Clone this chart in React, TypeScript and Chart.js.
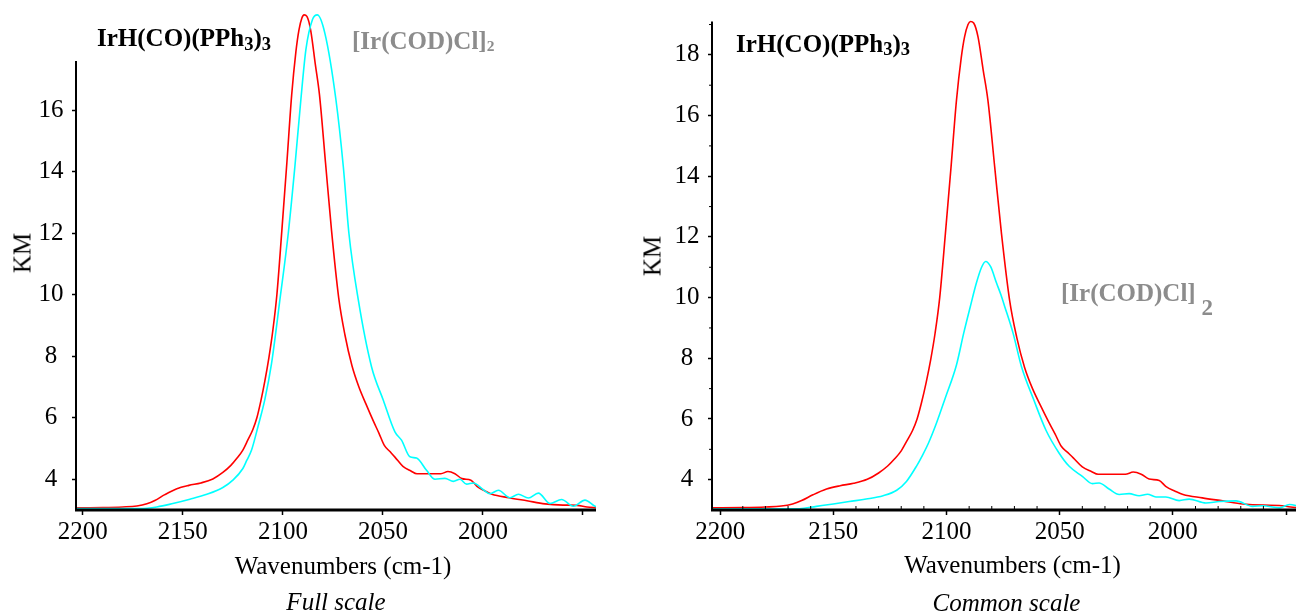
import React, { useEffect, useRef } from 'react';
import { Chart, registerables } from 'chart.js';

Chart.register(...registerables);

// ---------- data ----------
const xTickValues = [2200, 2150, 2100, 2050, 2000, 1950];
const xTickLabels = ['2200', '2150', '2100', '2050', '2000', ''];
const yTicksFull = [4, 6, 8, 10, 12, 14, 16];
const yTicksCommon = [4, 6, 8, 10, 12, 14, 16, 18];

// IrH(CO)(PPh3)3 (red) – same spectrum in both panels
const irhWavenumbers = [
  2204, 2190, 2180, 2173, 2168, 2164, 2159, 2153, 2147, 2141, 2135, 2130, 2126, 2123, 2120, 2117.5,
  2115, 2113, 2111, 2109, 2107, 2105, 2103, 2100.5, 2098, 2095.6, 2093.5, 2092, 2090.5, 2089.4,
  2088, 2086.1, 2083.8, 2081.7, 2078.7, 2075.7, 2072.1, 2069, 2065.5, 2062, 2058.5, 2054.7, 2052,
  2049.3, 2046.5, 2044, 2040, 2036, 2033, 2021, 2017.5, 2014, 2010.5, 2006, 2003, 1999, 1995.5,
  1987, 1978, 1969, 1960, 1953, 1948, 1943,
];
const irhKM = [
  3.07, 3.08, 3.1, 3.13, 3.2, 3.31, 3.5, 3.69, 3.8, 3.88, 4.01, 4.22, 4.45, 4.68, 4.95, 5.28,
  5.62, 6.0, 6.55, 7.2, 7.95, 8.85, 10.0, 12.1, 14.3, 16.5, 17.9, 18.6, 19.0, 19.1,
  19.05, 18.6, 17.5, 16.5, 14.3, 12.1, 9.9, 8.7, 7.7, 7.0, 6.45, 5.88, 5.5,
  5.1, 4.9, 4.72, 4.42, 4.27, 4.18, 4.18, 4.25, 4.18, 4.02, 3.97, 3.77, 3.62, 3.51,
  3.4, 3.3, 3.2, 3.16, 3.15, 3.1, 3.07,
];

// [Ir(COD)Cl]2 (cyan) – common scale
const codCommonWavenumbers = [
  2204, 2165, 2157.5, 2150, 2143, 2135.5, 2128, 2122, 2117.7, 2113.3, 2110.5, 2108, 2104.5, 2100.5,
  2095.6, 2092.4, 2089.5, 2086.8, 2084.5, 2082.7, 2080.5, 2077.9, 2076, 2074.3, 2070.6, 2066.9,
  2061.5, 2056, 2050.3, 2045.8, 2040, 2035.5, 2032.6, 2028.2, 2023.7, 2019.3, 2014.9, 2011.2,
  2007.5, 2003.1, 1997.2, 1992.8, 1985.4, 1979.5, 1972.1, 1964.8, 1960.3, 1953, 1948.5, 1944,
];
const codCommonKM = [
  3.03, 3.04, 3.12, 3.2, 3.28, 3.36, 3.47, 3.65, 3.94, 4.44, 4.82, 5.2, 5.85, 6.7,
  7.78, 8.83, 9.7, 10.48, 11.0, 11.19, 11.02, 10.48, 10.1, 9.71, 8.83, 7.73,
  6.64, 5.62, 4.88, 4.44, 4.11, 3.87, 3.89, 3.69, 3.51, 3.54, 3.47, 3.52,
  3.43, 3.43, 3.31, 3.36, 3.23, 3.28, 3.3, 3.12, 3.14, 3.07, 3.18, 3.12,
];

// [Ir(COD)Cl]2 (cyan) – full scale
const codFullWavenumbers = [
  2204, 2171.5, 2163, 2155, 2146.5, 2138, 2130, 2125, 2120, 2118, 2115.7, 2112.3, 2109, 2105.7,
  2101.5, 2097.3, 2094, 2091, 2088.5, 2085.2, 2082.8, 2079, 2073.5, 2069.8, 2067, 2062.3, 2055.7,
  2049.8, 2044, 2040.7, 2036.5, 2033.2, 2028.2, 2024, 2019, 2014.8, 2011.5, 2008.2, 2004.8,
  1999.8, 1996.5, 1992.3, 1986.5, 1982.3, 1977.3, 1972.3, 1966.5, 1960.7, 1954.8, 1949, 1944, 1943,
];
const codFullKM = [
  3.05, 3.05, 3.1, 3.21, 3.35, 3.51, 3.73, 3.97, 4.35, 4.62, 4.94, 5.75, 6.6, 7.75,
  9.83, 12.0, 14.17, 16.35, 17.97, 18.95, 19.1, 18.5, 16.35, 14.17, 12.0, 9.83, 7.66,
  6.57, 5.54, 5.27, 4.73, 4.69, 4.29, 4.0, 4.03, 3.93, 4.0, 3.84, 3.88,
  3.66, 3.53, 3.64, 3.4, 3.51, 3.39, 3.55, 3.21, 3.34, 3.12, 3.32, 3.12, 3.1,
];

// ---------- styling ----------
const SERIF = '"Liberation Serif", "Times New Roman", Times, serif';
const RED = '#ff0000';
const CYAN = '#00ffff';
const GRAY = '#8c8c8c';

const toPoints = (xs: number[], ys: number[]) => xs.map((x, i) => ({ x, y: ys[i] }));

const axesPlugin = {
  id: 'axesLines',
  afterDatasetsDraw(chart: any, _args: any, opts: any) {
    const { ctx, chartArea: ca, scales } = chart;
    const x = scales.x;
    const y = scales.y;
    ctx.save();
    ctx.strokeStyle = '#000';
    if (opts.minor) {
      ctx.lineWidth = 1;
      for (let v = 2190; v >= x.min; v -= 10) {
        if (v % 50 === 0) continue;
        const px = x.getPixelForValue(v);
        ctx.beginPath();
        ctx.moveTo(px, ca.bottom);
        ctx.lineTo(px, ca.bottom - 4);
        ctx.stroke();
      }
      for (let v = 4; v <= y.max; v += 1) {
        if (v % 2 === 0) continue;
        const py = y.getPixelForValue(v);
        ctx.beginPath();
        ctx.moveTo(ca.left, py);
        ctx.lineTo(ca.left - 3, py);
        ctx.stroke();
      }
    }
    ctx.lineWidth = 3;
    ctx.beginPath();
    ctx.moveTo(ca.left - 1, ca.bottom);
    ctx.lineTo(ca.right, ca.bottom);
    ctx.stroke();
    ctx.lineWidth = 2;
    ctx.beginPath();
    ctx.moveTo(ca.left, y.getPixelForValue(opts.axisTop));
    ctx.lineTo(ca.left, ca.bottom);
    ctx.stroke();
    ctx.restore();
  },
};

type PanelProps = {
  left: number;
  cyanX: number[];
  cyanY: number[];
  xMin: number;
  xMax: number;
  yMax: number;
  yTicks: number[];
  axisTop: number;
  yWidth: number;
  padTop: number;
  padRight: number;
  minor: boolean;
};

function SpectrumPanel(p: PanelProps) {
  const ref = useRef<HTMLCanvasElement | null>(null);
  useEffect(() => {
    if (!ref.current) return;
    const tickFont = { family: SERIF, size: 25 };
    const chart = new Chart(ref.current, {
      type: 'line',
      data: {
        datasets: [
          {
            data: toPoints(p.cyanX, p.cyanY),
            borderColor: CYAN,
            borderWidth: 1.6,
            pointRadius: 0,
            cubicInterpolationMode: 'monotone',
            clip: { left: 0, top: 5, right: 0, bottom: 2 } as any,
          },
          {
            data: toPoints(irhWavenumbers, irhKM),
            borderColor: RED,
            borderWidth: 1.6,
            pointRadius: 0,
            cubicInterpolationMode: 'monotone',
            clip: { left: 0, top: 5, right: 0, bottom: 2 } as any,
          },
        ],
      },
      options: {
        responsive: true,
        maintainAspectRatio: false,
        animation: false,
        layout: { padding: { left: 0, right: p.padRight, top: p.padTop, bottom: 0 } },
        plugins: {
          legend: { display: false },
          tooltip: { enabled: false },
          axesLines: { axisTop: p.axisTop, minor: p.minor },
        } as any,
        scales: {
          x: {
            type: 'linear',
            reverse: true,
            min: p.xMin,
            max: p.xMax,
            afterFit: (s: any) => {
              s.height = 102;
              s.paddingLeft = 0;
              s.paddingRight = 0;
            },
            afterBuildTicks: (s: any) => {
              s.ticks = xTickValues.map((v) => ({ value: v }));
            },
            ticks: {
              callback: (_v: any, i: number) => xTickLabels[i],
              font: tickFont,
              color: '#000',
              padding: 2,
              maxRotation: 0,
              autoSkip: false,
            },
            grid: {
              display: true,
              drawOnChartArea: false,
              drawTicks: true,
              tickLength: 5,
              tickColor: '#000',
              tickWidth: 1.5,
            },
            border: { display: false },
          },
          y: {
            type: 'linear',
            min: 3,
            max: p.yMax,
            afterFit: (s: any) => {
              s.width = p.yWidth;
              s.paddingTop = 0;
              s.paddingBottom = 0;
            },
            afterBuildTicks: (s: any) => {
              s.ticks = p.yTicks.map((v) => ({ value: v }));
            },
            ticks: {
              callback: (v: any) => String(v),
              font: tickFont,
              color: '#000',
              padding: 8.5,
              crossAlign: 'center',
            },
            grid: {
              display: true,
              drawOnChartArea: false,
              drawTicks: true,
              tickLength: 4,
              tickColor: '#000',
              tickWidth: 1.5,
            },
            border: { display: false },
          },
        },
      } as any,
      plugins: [axesPlugin],
    });
    return () => chart.destroy();
  }, []);
  return (
    <div style={{ position: 'absolute', left: p.left, top: 0, width: 648, height: 612 }}>
      <canvas ref={ref} />
    </div>
  );
}

type TxtProps = {
  x: number;
  baseline: number;
  size?: number;
  center?: boolean;
  bold?: boolean;
  italic?: boolean;
  color?: string;
  children: React.ReactNode;
};

function Txt({ x, baseline, size = 25, center, bold, italic, color = '#000', children }: TxtProps) {
  return (
    <div
      style={{
        position: 'absolute',
        left: x,
        top: baseline - 0.8375 * size,
        fontFamily: SERIF,
        fontSize: size,
        lineHeight: size + 'px',
        fontWeight: bold ? 700 : 400,
        fontStyle: italic ? 'italic' : 'normal',
        color,
        whiteSpace: 'nowrap',
        transform: center ? 'translateX(-50%)' : undefined,
      }}
    >
      {children}
    </div>
  );
}

function Sub({ children, scale = 0.74, shift = 3 }: { children: React.ReactNode; scale?: number; shift?: number }) {
  return <span style={{ fontSize: scale + 'em', position: 'relative', top: shift }}>{children}</span>;
}

function KM({ cx, cy }: { cx: number; cy: number }) {
  return (
    <div
      style={{
        position: 'absolute',
        left: cx,
        top: cy,
        fontFamily: SERIF,
        fontSize: 25,
        lineHeight: '25px',
        whiteSpace: 'nowrap',
        transform: 'translate(-50%, -50%) rotate(-90deg)',
        color: '#000',
      }}
    >
      KM
    </div>
  );
}

export default function App() {
  return (
    <div
      style={{
        position: 'fixed',
        left: 0,
        top: 0,
        width: 1296,
        height: 612,
        background: '#fff',
        overflow: 'hidden',
      }}
    >
      <SpectrumPanel
        left={0}
        cyanX={codFullWavenumbers}
        cyanY={codFullKM}
        xMin={1943.5}
        xMax={2203.4}
        yMax={19.26}
        yTicks={yTicksFull}
        axisTop={17.6}
        yWidth={76}
        padTop={10}
        padRight={52}
        minor={false}
      />
      <SpectrumPanel
        left={648}
        cyanX={codCommonWavenumbers}
        cyanY={codCommonKM}
        xMin={1945.6}
        xMax={2203.6}
        yMax={19.1}
        yTicks={yTicksCommon}
        axisTop={19.1}
        yWidth={64}
        padTop={21.5}
        padRight={0}
        minor={true}
      />

      {/* left panel texts */}
      <Txt x={97} baseline={46} bold>
        IrH(CO)(PPh<Sub shift={4}>3</Sub>)<Sub shift={4}>3</Sub>
      </Txt>
      <Txt x={352} baseline={49} bold color={GRAY}>
        [Ir(COD)Cl]<Sub scale={0.62} shift={2}>2</Sub>
      </Txt>
      <KM cx={21.7} cy={253} />
      <Txt x={343} baseline={574} center>
        Wavenumbers (cm-1)
      </Txt>
      <Txt x={336} baseline={609.5} center italic>
        Full scale
      </Txt>

      {/* right panel texts */}
      <Txt x={736} baseline={52.3} bold>
        IrH(CO)(PPh<Sub shift={3}>3</Sub>)<Sub shift={3}>3</Sub>
      </Txt>
      <Txt x={1061} baseline={300.5} bold color={GRAY}>
        [Ir(COD)Cl]
      </Txt>
      <Txt x={1201.5} baseline={315.5} size={23} bold color={GRAY}>
        2
      </Txt>
      <KM cx={652} cy={256} />
      <Txt x={1012.5} baseline={573} center>
        Wavenumbers (cm-1)
      </Txt>
      <Txt x={1006.5} baseline={611} center italic>
        Common scale
      </Txt>
    </div>
  );
}
